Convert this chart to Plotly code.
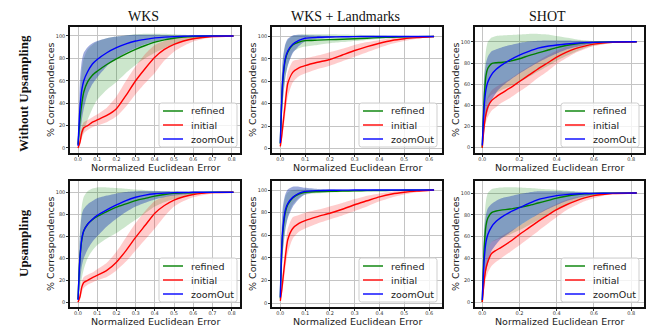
import plotly.graph_objects as go

# ---------------- data ----------------
X_WKS = [0, 0.01, 0.02, 0.03, 0.05, 0.075, 0.1, 0.15, 0.2, 0.25, 0.3, 0.35, 0.4, 0.45, 0.5, 0.55, 0.6, 0.7, 0.81]
X_WKSL = [0, 0.005, 0.01, 0.02, 0.03, 0.05, 0.075, 0.1, 0.15, 0.2, 0.25, 0.3, 0.35, 0.4, 0.45, 0.5, 0.55, 0.62]
X_SHOT = [0, 0.01, 0.02, 0.03, 0.05, 0.075, 0.1, 0.15, 0.2, 0.25, 0.3, 0.35, 0.4, 0.45, 0.5, 0.55, 0.6, 0.7, 0.83]

# WKS, without upsampling
WKS_NO_REF = [3, 25, 40, 50, 59, 65, 68.5, 74.5, 79.5, 84, 88, 91.5, 94.5, 96.5, 98, 99, 99.5, 99.9, 100]
WKS_NO_REF_LO = [0, 5, 10, 15, 25, 35, 43, 52, 59, 67, 74, 80, 85, 89, 93, 95.5, 97, 99, 100]
WKS_NO_REF_HI = [5, 45, 70, 80, 88, 92, 95, 98, 99.5, 100.5, 101.5, 102, 102, 102, 101.5, 101, 100.5, 100, 100]
WKS_NO_INI = [0, 5, 14, 18, 20, 23, 25, 29, 35, 47, 60, 71, 81, 88, 92.5, 95.5, 97.5, 99.5, 100]
WKS_NO_INI_LO = [0, 2, 9, 13, 16, 18.5, 20, 23, 28, 37, 48, 58, 67, 78, 86, 91, 95, 98.8, 100]
WKS_NO_INI_HI = [1, 9, 19, 23, 25, 27.5, 30, 36, 46, 60, 73, 84, 92, 95.5, 97.5, 98.7, 99.5, 100, 100]
WKS_NO_ZO = [2, 35, 52, 60, 68, 75, 79, 85, 89.5, 93, 95.5, 97, 98.3, 99, 99.4, 99.7, 99.9, 100, 100]
WKS_NO_ZO_LO = [0, 12, 25, 35, 48, 57, 63, 73, 80, 85, 89, 92.5, 95, 97, 98, 98.8, 99.3, 99.8, 100]
WKS_NO_ZO_HI = [5, 60, 78, 85, 90, 93.5, 95.5, 98, 99.5, 100.5, 101, 101, 101, 100.8, 100.5, 100.3, 100.2, 100, 100]

# WKS + Landmarks, without upsampling
WKSL_NO_REF = [4, 38, 60, 79, 86, 92.5, 95, 96.3, 96.8, 97.2, 97.6, 98, 98.5, 99, 99.4, 99.7, 99.9, 100]
WKSL_NO_REF_LO = [2, 22, 40, 63, 74, 86, 89.5, 91, 92.5, 94, 95, 96, 97, 97.8, 98.5, 99, 99.5, 100]
WKSL_NO_REF_HI = [6, 55, 78, 92, 97, 100.5, 101.5, 102, 102, 102, 101.8, 101.6, 101.4, 101.2, 101, 100.7, 100.4, 100]
WKSL_NO_INI = [2, 10, 20, 40, 58, 68, 72, 74, 77, 79.5, 83.5, 87.5, 91, 94, 96.5, 98, 99, 100]
WKSL_NO_INI_LO = [1, 6, 13, 30, 46, 59, 64.5, 67, 71, 74, 78, 82, 86, 90, 93.5, 96, 98, 99.8]
WKSL_NO_INI_HI = [3, 15, 28, 50, 68, 78, 79.5, 80.5, 83, 86, 89, 92.5, 95, 97, 98.5, 99.5, 100, 100]
WKSL_NO_ZO = [5, 40, 62, 80, 87, 93, 96.5, 98.5, 99.3, 99.6, 99.8, 99.9, 100, 100, 100, 100, 100, 100]
WKSL_NO_ZO_LO = [2, 22, 42, 63, 74, 85, 91.5, 95.5, 98, 99, 99.5, 99.7, 99.8, 99.9, 100, 100, 100, 100]
WKSL_NO_ZO_HI = [8, 60, 80, 93, 98, 101, 101.5, 101.3, 100.8, 100.4, 100.2, 100.1, 100, 100, 100, 100, 100, 100]

# SHOT, without upsampling
SHOT_NO_REF = [0, 45, 68, 75, 79.5, 80.3, 80.5, 81.8, 84, 87, 89.5, 92, 94.5, 96.5, 98, 99, 99.5, 99.9, 100]
SHOT_NO_REF_LO = [0, 25, 40, 46, 50, 52, 54, 58, 62, 67, 72, 77, 82, 86.5, 90.5, 94, 96.5, 99, 100]
SHOT_NO_REF_HI = [2, 70, 92, 100, 104, 105.5, 106, 106.5, 107, 107.5, 107.5, 107, 105.5, 104, 102.5, 101.5, 100.8, 100.2, 100]
SHOT_NO_INI = [0, 20, 32, 38.5, 44.5, 48, 51, 56.5, 62.5, 68.5, 74.5, 80, 85.5, 90, 93.5, 96, 97.8, 99.5, 100]
SHOT_NO_INI_LO = [0, 12, 24, 29, 35, 38.5, 42, 47, 53, 59, 66, 72, 79, 84.5, 89.5, 93, 96, 99, 100]
SHOT_NO_INI_HI = [1, 28, 42, 48, 54, 57.5, 60, 65, 71, 76.5, 82, 87, 91.5, 95, 97.5, 98.8, 99.5, 100, 100]
SHOT_NO_ZO = [2, 38, 55, 62, 69, 74, 77.5, 83, 87.5, 91, 94, 95.8, 97, 98, 98.7, 99.2, 99.5, 99.9, 100]
SHOT_NO_ZO_LO = [0, 15, 28, 35, 45, 52, 57, 64, 70, 75.5, 80.5, 85, 89, 92.5, 95, 97, 98.3, 99.5, 100]
SHOT_NO_ZO_HI = [4, 65, 80, 86, 91, 93, 94.5, 97, 99, 100.3, 101, 101.3, 101.3, 101.2, 101, 100.8, 100.5, 100.2, 100]

# WKS, upsampling
WKS_UP_REF = [3, 40, 57, 65, 71, 75, 78, 82.5, 86.5, 89.5, 92.5, 94.5, 96.5, 98, 99, 99.5, 99.8, 100, 100]
WKS_UP_REF_LO = [0, 10, 22, 30, 40, 47, 52, 58, 63, 69, 75, 81, 87, 91, 94, 96.5, 98, 99.5, 100]
WKS_UP_REF_HI = [5, 65, 88, 96, 101, 103.5, 104.5, 104.5, 104, 103.3, 102.5, 102, 101.5, 101.2, 101, 100.7, 100.4, 100, 100]
WKS_UP_INI = [0, 5, 14, 18, 20, 22.5, 24.5, 29, 36.5, 47, 59, 70, 81, 88, 93, 96, 98, 99.7, 100]
WKS_UP_INI_LO = [0, 2, 9, 13, 16, 18, 20, 23, 29, 37, 47, 57, 67, 78, 87, 92, 95.5, 99, 100]
WKS_UP_INI_HI = [1, 9, 19, 23, 25, 27, 30, 36, 46, 59, 72, 83, 92, 96, 98, 99, 99.6, 100, 100]
WKS_UP_ZO = [2, 40, 58, 65, 71, 75.5, 79, 84, 88.5, 92.5, 95.5, 97.5, 98.7, 99.3, 99.7, 99.9, 100, 100, 100]
WKS_UP_ZO_LO = [0, 18, 33, 40, 48, 55, 60, 69, 76, 82, 87, 90.5, 93.5, 95.5, 97, 98, 98.8, 99.7, 100]
WKS_UP_ZO_HI = [4, 62, 80, 85, 89, 92, 94.5, 97, 99, 100.3, 101, 101.2, 101.2, 101, 100.8, 100.5, 100.3, 100, 100]

# WKS + Landmarks, upsampling
WKSL_UP_REF = [4, 42, 62, 80, 87, 93, 96.5, 98, 98.5, 98.8, 99.1, 99.3, 99.5, 99.6, 99.7, 99.8, 99.9, 100]
WKSL_UP_REF_LO = [2, 25, 43, 64, 76, 87, 93, 96, 97.2, 97.7, 98.2, 98.6, 99, 99.2, 99.4, 99.6, 99.8, 100]
WKSL_UP_REF_HI = [6, 58, 80, 94, 98, 100, 100.5, 100.5, 100.3, 100.2, 100.1, 100.1, 100, 100, 100, 100, 100, 100]
WKSL_UP_INI = [2, 10, 20, 40, 56, 66, 70.5, 73, 76.5, 79.5, 83, 87, 90.5, 94, 96.5, 98, 99, 100]
WKSL_UP_INI_LO = [1, 6, 13, 30, 44, 57, 63, 66, 70.5, 74, 77.5, 81.5, 85.5, 90, 93.5, 96, 98, 99.8]
WKSL_UP_INI_HI = [3, 15, 28, 50, 66, 76, 78, 80, 82.5, 85.5, 88.5, 92, 95, 97, 98.5, 99.5, 100, 100]
WKSL_UP_ZO = [5, 45, 65, 82, 88, 93.5, 97, 98.8, 99.5, 99.8, 99.9, 100, 100, 100, 100, 100, 100, 100]
WKSL_UP_ZO_LO = [2, 25, 45, 65, 75, 85, 92, 96, 98.5, 99.3, 99.6, 99.8, 99.9, 100, 100, 100, 100, 100]
WKSL_UP_ZO_HI = [8, 65, 85, 96, 100.5, 103, 103, 102, 101, 100.5, 100.3, 100.2, 100.1, 100, 100, 100, 100, 100]

# SHOT, upsampling
SHOT_UP_REF = [0, 48, 70, 77, 82, 83.5, 84.3, 85.3, 86.8, 88.5, 90.8, 93, 95.3, 97, 98.4, 99.2, 99.6, 99.9, 100]
SHOT_UP_REF_LO = [0, 25, 42, 48, 55, 57, 58.5, 62, 66, 70.5, 75, 80, 85, 89, 93, 95.5, 97.5, 99.3, 100]
SHOT_UP_REF_HI = [2, 72, 93, 100, 103.5, 104.5, 105, 105.2, 105, 104.5, 104, 103.5, 103, 102.2, 101.5, 101, 100.5, 100.2, 100]
SHOT_UP_INI = [0, 19, 31, 37, 44.5, 47.5, 50, 55.5, 62, 68, 74, 79.5, 84.7, 89, 92.5, 95.5, 97.6, 99.5, 100]
SHOT_UP_INI_LO = [0, 11, 22, 27, 33, 37, 40, 46, 52, 58.5, 65, 71.5, 78, 84, 88.5, 92.5, 95.3, 99, 100]
SHOT_UP_INI_HI = [1, 28, 42, 48, 55, 57.5, 60, 65, 70, 75.5, 81, 86, 90, 93.5, 96, 98, 99.2, 100, 100]
SHOT_UP_ZO = [2, 38, 55, 62, 69, 74, 77.5, 82.5, 86.5, 90.5, 94, 96, 97.6, 98.5, 99.1, 99.5, 99.7, 99.9, 100]
SHOT_UP_ZO_LO = [0, 15, 28, 35, 47, 53, 58, 64, 70, 75.5, 80.5, 85, 89, 92.5, 95, 97, 98.3, 99.5, 100]
SHOT_UP_ZO_HI = [4, 65, 80, 86, 90, 93, 95, 97, 99, 100.5, 101.5, 101.6, 101.5, 101.3, 101, 100.8, 100.5, 100.2, 100]

COLUMN_TITLES = ["WKS", "WKS + Landmarks", "SHOT"]
ROW_TITLES = ["Without Upsampling", "Upsampling"]
SERIES_NAMES = ["refined", "initial", "zoomOut"]
X_TITLE = "Normalized Euclidean Error"
Y_TITLE = "% Correspondences"
Y_TICKS = [0, 20, 40, 60, 80, 100]

# ---------------- styling / layout ----------------
W, H = 662, 329
LINE_COLORS = ["#008000", "#ff0000", "#0000ff"]
FILL_COLORS = ["rgba(0,128,0,0.2)", "rgba(255,0,0,0.2)", "rgba(45,75,180,0.47)"]

col_px = [(70, 240), (272, 442), (475, 644)]
row_px = [(27, 153), (181, 307)]
x_ranges = [[-0.0417, 0.8437], [-0.0335, 0.652], [-0.039, 0.869]]
y_ranges = [[[-4.5, 108], [-4.0, 108.5], [-5.0, 114]],
            [[-4.3, 110.3], [-3.5, 108], [-4.5, 111]]]
x_dtick = [0.1, 0.1, 0.2]
x_data = [X_WKS, X_WKSL, X_SHOT]

panels = [
    [  # row 0
        [(WKS_NO_REF, WKS_NO_REF_LO, WKS_NO_REF_HI), (WKS_NO_INI, WKS_NO_INI_LO, WKS_NO_INI_HI), (WKS_NO_ZO, WKS_NO_ZO_LO, WKS_NO_ZO_HI)],
        [(WKSL_NO_REF, WKSL_NO_REF_LO, WKSL_NO_REF_HI), (WKSL_NO_INI, WKSL_NO_INI_LO, WKSL_NO_INI_HI), (WKSL_NO_ZO, WKSL_NO_ZO_LO, WKSL_NO_ZO_HI)],
        [(SHOT_NO_REF, SHOT_NO_REF_LO, SHOT_NO_REF_HI), (SHOT_NO_INI, SHOT_NO_INI_LO, SHOT_NO_INI_HI), (SHOT_NO_ZO, SHOT_NO_ZO_LO, SHOT_NO_ZO_HI)],
    ],
    [  # row 1
        [(WKS_UP_REF, WKS_UP_REF_LO, WKS_UP_REF_HI), (WKS_UP_INI, WKS_UP_INI_LO, WKS_UP_INI_HI), (WKS_UP_ZO, WKS_UP_ZO_LO, WKS_UP_ZO_HI)],
        [(WKSL_UP_REF, WKSL_UP_REF_LO, WKSL_UP_REF_HI), (WKSL_UP_INI, WKSL_UP_INI_LO, WKSL_UP_INI_HI), (WKSL_UP_ZO, WKSL_UP_ZO_LO, WKSL_UP_ZO_HI)],
        [(SHOT_UP_REF, SHOT_UP_REF_LO, SHOT_UP_REF_HI), (SHOT_UP_INI, SHOT_UP_INI_LO, SHOT_UP_INI_HI), (SHOT_UP_ZO, SHOT_UP_ZO_LO, SHOT_UP_ZO_HI)],
    ],
]

fig = go.Figure()
layout = {}
annotations = []
shapes = []
SANS = "DejaVu Sans"
SERIF = "Liberation Serif"


def px(xp):
    return xp / W


def py(yp):
    return 1 - yp / H


def rounded_rect(x0, y0, x1, y1, r=2.5):
    # pixel coordinates -> paper path with small rounded corners
    return (f"M {px(x0 + r)},{py(y0)} L {px(x1 - r)},{py(y0)} Q {px(x1)},{py(y0)} {px(x1)},{py(y0 + r)} "
            f"L {px(x1)},{py(y1 - r)} Q {px(x1)},{py(y1)} {px(x1 - r)},{py(y1)} "
            f"L {px(x0 + r)},{py(y1)} Q {px(x0)},{py(y1)} {px(x0)},{py(y1 - r)} "
            f"L {px(x0)},{py(y0 + r)} Q {px(x0)},{py(y0)} {px(x0 + r)},{py(y0)} Z")


idx = 0
for r in range(2):
    for c in range(3):
        idx += 1
        xa = "x" if idx == 1 else f"x{idx}"
        ya = "y" if idx == 1 else f"y{idx}"
        xs = x_data[c]
        series = panels[r][c]
        # bands
        for k, (mean, lo, hi) in enumerate(series):
            fig.add_trace(go.Scatter(x=xs, y=lo, mode="lines", line=dict(width=0, shape="spline", smoothing=0.6),
                                     xaxis=xa, yaxis=ya, showlegend=False, hoverinfo="skip"))
            fig.add_trace(go.Scatter(x=xs, y=hi, mode="lines", line=dict(width=0, shape="spline", smoothing=0.6),
                                     fill="tonexty", fillcolor=FILL_COLORS[k],
                                     xaxis=xa, yaxis=ya, showlegend=False, hoverinfo="skip"))
        # lines
        for k, (mean, lo, hi) in enumerate(series):
            fig.add_trace(go.Scatter(x=xs, y=mean, mode="lines", name=SERIES_NAMES[k],
                                     line=dict(color=LINE_COLORS[k], width=1.4, shape="spline", smoothing=0.6),
                                     xaxis=xa, yaxis=ya, showlegend=False))
        x0, x1 = col_px[c]
        y0, y1 = row_px[r]
        common = dict(showgrid=True, gridcolor="#c4c4c4", gridwidth=1.2, showline=True, linecolor="#111111",
                      linewidth=1.5, mirror=True, ticks="outside", ticklen=2, tickwidth=0.8, tickcolor="#333",
                      tickfont=dict(family=SANS, size=5, color="#333"), zeroline=False)
        layout["xaxis" if idx == 1 else f"xaxis{idx}"] = dict(
            domain=[x0 / W, x1 / W], range=x_ranges[c], anchor=ya, tick0=0, dtick=x_dtick[c],
            tickformat=".1f", ticklabelstandoff=-2, **common)
        layout["yaxis" if idx == 1 else f"yaxis{idx}"] = dict(
            domain=[1 - y1 / H, 1 - y0 / H], range=y_ranges[r][c], anchor=xa, tickvals=Y_TICKS, **common)

        # legend box (lower right of panel), drawn like matplotlib's
        lr = [237, 437, 639][c]
        ll = lr - 78
        lt = [103, 258][r]
        lb = lt + 44
        shapes.append(dict(type="path", xref="paper", yref="paper", path=rounded_rect(ll, lt, lr, lb),
                           fillcolor="rgba(255,255,255,0.8)", line=dict(color="#cfcfcf", width=1), layer="above"))
        for k, name in enumerate(SERIES_NAMES):
            yy = lt + 8 + 14 * k
            shapes.append(dict(type="line", xref="paper", yref="paper", x0=px(ll + 4), x1=px(ll + 24),
                               y0=py(yy), y1=py(yy), line=dict(color=LINE_COLORS[k], width=1.4), layer="above"))
            annotations.append(dict(text=name, x=px(ll + 30), y=py(yy), xref="paper", yref="paper", showarrow=False,
                                    xanchor="left", yanchor="middle", font=dict(family=SANS, size=9.5, color="#222")))

        # axis titles
        annotations.append(dict(text=X_TITLE, x=(x0 + x1) / 2 / W, y=py(y1 + 14.5), xref="paper", yref="paper",
                                showarrow=False, font=dict(family=SANS, size=9.5, color="#222"),
                                xanchor="center", yanchor="middle"))
        annotations.append(dict(text=Y_TITLE, x=px(x0 - 20), y=py((y0 + y1) / 2), xref="paper", yref="paper",
                                showarrow=False, textangle=-90, font=dict(family=SANS, size=9.5, color="#222"),
                                xanchor="center", yanchor="middle"))

# column titles
for c, t in enumerate(COLUMN_TITLES):
    cx = [143, 345.5, 547.5][c]
    annotations.append(dict(text=t, x=px(cx), y=py(16), xref="paper", yref="paper", showarrow=False,
                            font=dict(family=SERIF, size=14, color="#111"), xanchor="center", yanchor="middle"))
# row titles
for r, t in enumerate(ROW_TITLES):
    cy = [94, 243][r]
    annotations.append(dict(text=f"<b>{t}</b>", x=px(23), y=py(cy), xref="paper", yref="paper",
                            showarrow=False, textangle=-90, font=dict(family=SERIF, size=13, color="#111"),
                            xanchor="center", yanchor="middle"))

fig.update_layout(width=W, height=H, margin=dict(l=0, r=0, t=0, b=0), paper_bgcolor="white",
                  plot_bgcolor="white", annotations=annotations, shapes=shapes, showlegend=False, **layout)
fig.write_html("out.html", config={"displayModeBar": False},
               post_script="document.body.style.margin='0px';document.body.style.padding='0px';")
